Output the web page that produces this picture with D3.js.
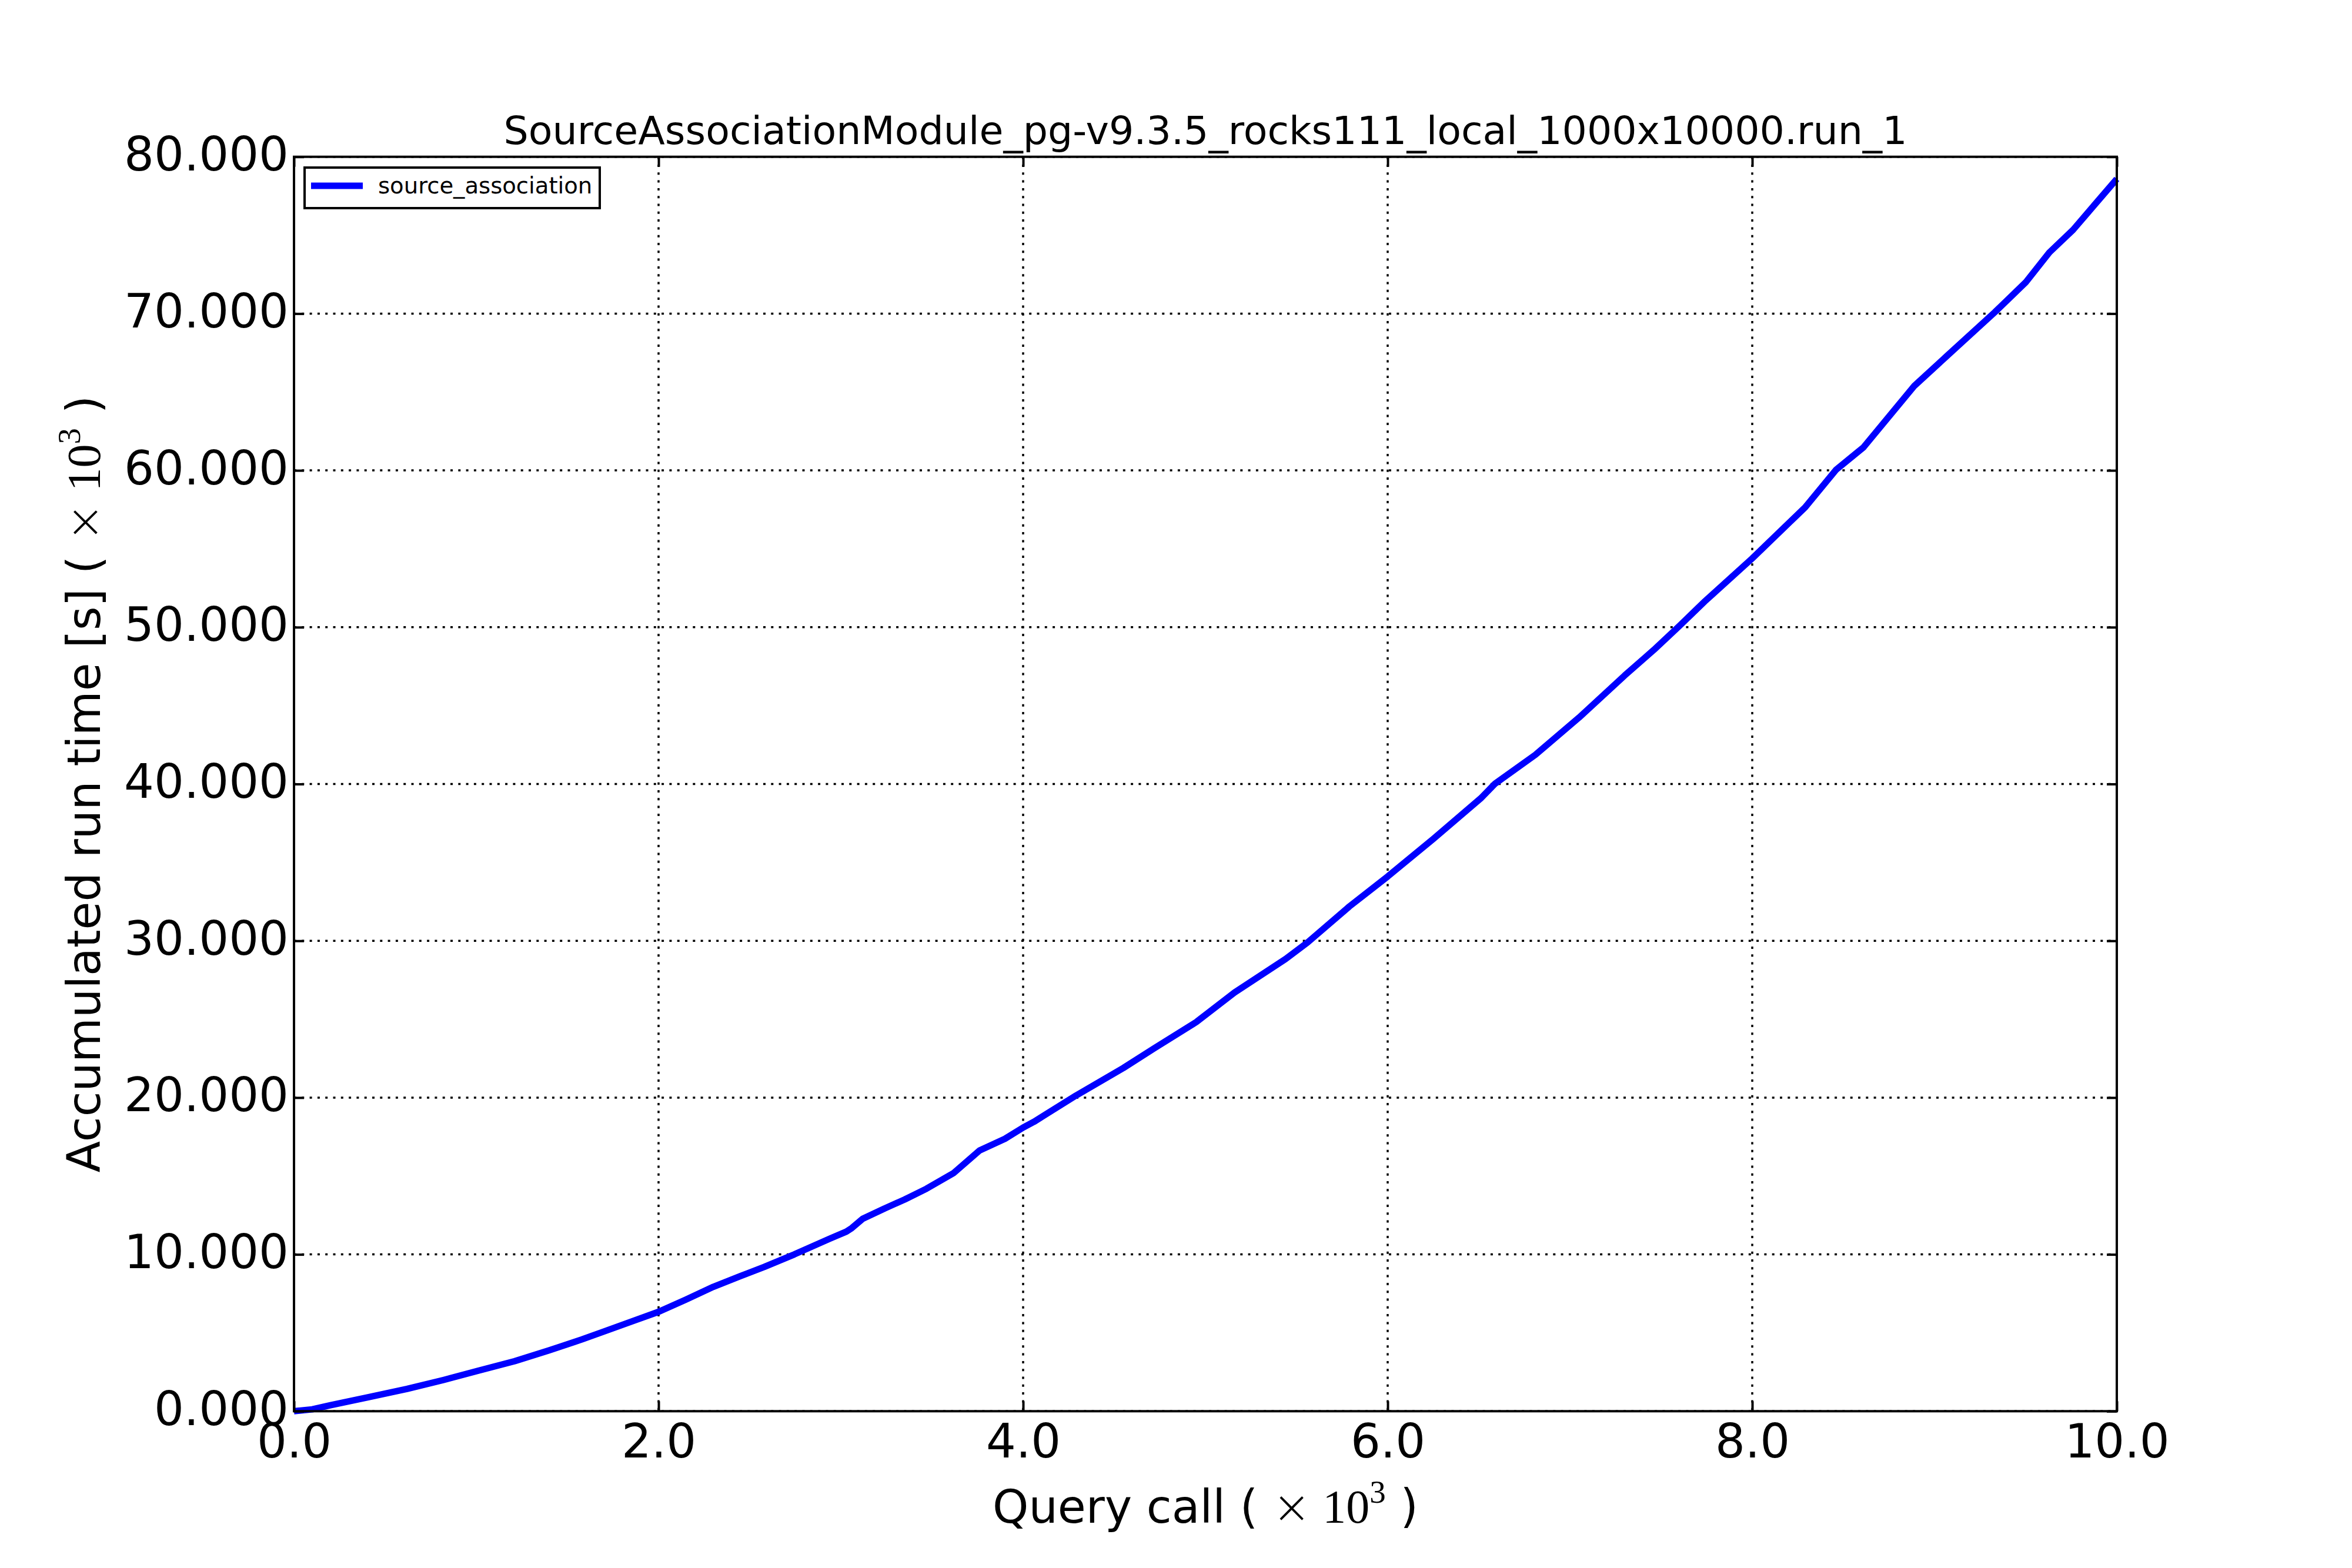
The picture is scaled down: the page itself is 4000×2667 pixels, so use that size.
<!DOCTYPE html>
<html>
<head>
<meta charset="utf-8">
<script src="https://cdn.jsdelivr.net/npm/d3@7"></script>
<style>
  html, body { margin: 0; padding: 0; background: #ffffff; }
  svg { display: block; }
  text { font-family: "DejaVu Sans", sans-serif; fill: #000; }
</style>
</head>
<body>
<script>
// ---- data (query call ×10^3, accumulated run time [s] ×10^3) ----
const queryCall = [0.00, 0.10, 0.20, 0.41, 0.62, 0.82, 1.01, 1.21, 1.40, 1.58, 1.86, 2.00, 2.15, 2.30, 2.45, 2.58,
  2.745, 2.94, 3.03, 3.06, 3.12, 3.24, 3.35, 3.47, 3.62, 3.76, 3.90, 4.00, 4.06, 4.29, 4.55, 4.72, 4.95,
  5.16, 5.44, 5.56, 5.79, 6.00, 6.25, 6.51, 6.59, 6.81, 7.05, 7.30, 7.46, 7.60, 7.74, 8.00, 8.29, 8.46,
  8.61, 8.89, 9.07, 9.33, 9.50, 9.63, 9.76, 10.00];
const runTime = [0.00, 0.12, 0.38, 0.90, 1.42, 1.99, 2.58, 3.19, 3.88, 4.58, 5.75, 6.34, 7.12, 7.93, 8.62, 9.20,
  10.00, 11.01, 11.45, 11.68, 12.27, 12.93, 13.50, 14.19, 15.20, 16.62, 17.37, 18.09, 18.46, 20.13, 21.89, 23.15, 24.82,
  26.70, 28.84, 29.89, 32.19, 34.10, 36.49, 39.08, 40.03, 41.86, 44.24, 46.92, 48.55, 50.08, 51.65, 54.39, 57.64, 60.04,
  61.47, 65.40, 67.32, 70.08, 71.99, 73.90, 75.34, 78.59];
const seriesName = "source_association";
const xTicks = [0, 2, 4, 6, 8, 10];
const yTicks = [0, 10, 20, 30, 40, 50, 60, 70, 80];
const titleText = "SourceAssociationModule_pg-v9.3.5_rocks111_local_1000x10000.run_1";

// ---- layout ----
const W = 4000, H = 2667;
const L = 500, R = 3600, T = 266.7, B = 2400.3;
const TICK = 17;

const svg = d3.select("body").append("svg").attr("width", W).attr("height", H);
svg.append("rect").attr("width", W).attr("height", H).attr("fill", "#ffffff");

const x = d3.scaleLinear().domain([0, 10]).range([L, R]);
const y = d3.scaleLinear().domain([0, 80]).range([B, T]);

// grid
const grid = svg.append("g").attr("stroke", "#000").attr("stroke-width", 3.5).attr("stroke-dasharray", "4,9.3");
grid.selectAll("line.gx").data(xTicks).join("line").attr("class", "gx")
  .attr("x1", d => x(d)).attr("x2", d => x(d)).attr("y1", T).attr("y2", B);
grid.selectAll("line.gy").data(yTicks).join("line").attr("class", "gy")
  .attr("y1", d => y(d)).attr("y2", d => y(d)).attr("x1", L).attr("x2", R);

// curve
const pts = queryCall.map((q, i) => [q, runTime[i]]);
svg.append("path").datum(pts)
  .attr("fill", "none").attr("stroke", "#0000ff").attr("stroke-width", 11)
  .attr("stroke-linejoin", "round").attr("stroke-linecap", "butt")
  .attr("d", d3.line().x(d => x(d[0])).y(d => y(d[1])));

// axes (inward ticks)
const fmtY = d3.format(".3f"), fmtX = d3.format(".1f");
const gl = svg.append("g").attr("transform", `translate(${L},0)`)
  .call(d3.axisLeft(y).tickValues(yTicks).tickFormat(fmtY).tickSizeInner(-TICK).tickSizeOuter(0).tickPadding(9));
const gb = svg.append("g").attr("transform", `translate(0,${B})`)
  .call(d3.axisBottom(x).tickValues(xTicks).tickFormat(fmtX).tickSizeInner(-TICK).tickSizeOuter(0));
const gr = svg.append("g").attr("transform", `translate(${R},0)`)
  .call(d3.axisRight(y).tickValues(yTicks).tickFormat("").tickSizeInner(-TICK).tickSizeOuter(0));
const gt = svg.append("g").attr("transform", `translate(0,${T})`)
  .call(d3.axisTop(x).tickValues(xTicks).tickFormat("").tickSizeInner(-TICK).tickSizeOuter(0));
[gl, gb, gr, gt].forEach(g => {
  g.select(".domain").remove();
  g.selectAll(".tick line").attr("stroke", "#000").attr("stroke-width", 4);
  g.attr("font-family", null).attr("font-size", null);
});
gl.selectAll(".tick text").attr("x", -9).attr("dy", null).attr("y", 23)
  .style("font-size", "80px").attr("text-anchor", "end");
gb.selectAll(".tick text").attr("dy", null).attr("y", 79)
  .style("font-size", "80px").attr("text-anchor", "middle");

// frame
svg.append("rect").attr("x", L).attr("y", T).attr("width", R - L).attr("height", B - T)
  .attr("fill", "none").attr("stroke", "#000").attr("stroke-width", 4);

// title
svg.append("text").attr("x", (L + R) / 2).attr("y", 245).attr("text-anchor", "middle")
  .style("font-size", "66.6px").text(titleText);

// axis labels with math part
function mathLabel(sel, prefix) {
  sel.append("tspan").text(prefix + "( ");
  sel.append("tspan").style("font-family", "'DejaVu Sans'").style("font-weight", "300").text("\u00D7");
  sel.append("tspan").style("font-family", "'Liberation Serif', serif").style("font-size", "80px").text(" 10");
  sel.append("tspan").style("font-family", "'Liberation Serif', serif").style("font-size", "55px")
    .attr("dy", "-0.62em").text("3");
  sel.append("tspan").attr("dy", "0.43em").text(" )");
}
const xl = svg.append("text").attr("x", (L + R) / 2).attr("y", 2590).attr("text-anchor", "middle")
  .style("font-size", "78px");
mathLabel(xl, "Query call ");
const yl = svg.append("text").attr("transform", `translate(170,${(T + B) / 2}) rotate(-90)`)
  .attr("text-anchor", "middle").style("font-size", "78px");
mathLabel(yl, "Accumulated run time [s] ");

// legend
const lg = svg.append("g");
lg.append("rect").attr("x", 518).attr("y", 285).attr("width", 502).attr("height", 69)
  .attr("fill", "#fff").attr("stroke", "#000").attr("stroke-width", 4);
lg.append("line").attr("x1", 529).attr("x2", 617).attr("y1", 316).attr("y2", 316)
  .attr("stroke", "#0000ff").attr("stroke-width", 11);
lg.append("text").attr("x", 643).attr("y", 329).style("font-size", "38.6px").text(seriesName);
</script>
</body>
</html>
